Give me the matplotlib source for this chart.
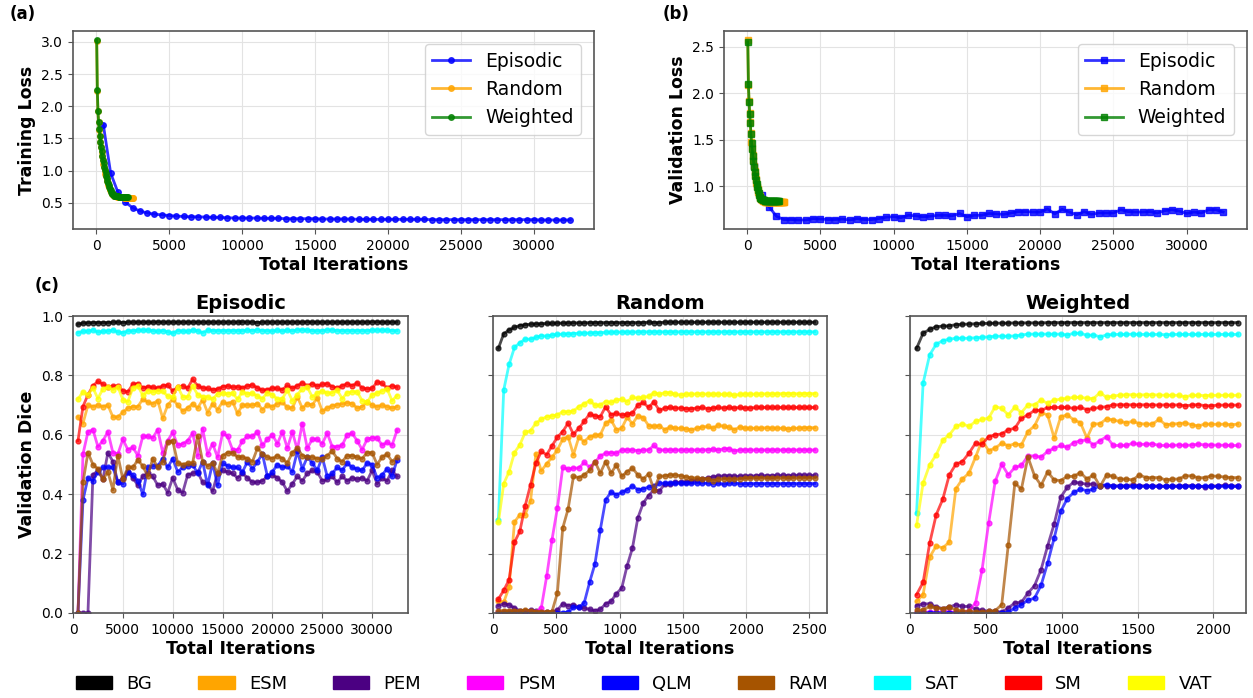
import numpy as np
import matplotlib
matplotlib.use("Agg")
import matplotlib.pyplot as plt
from matplotlib.patches import Patch

# iteration schedules (validation every n iterations)
ep_step, rand_step, w_step = 500, 42.4, 43.2

# training loss
train_ep = [1.71, 0.96, 0.66, 0.51, 0.42, 0.37, 0.34, 0.32, 0.31, 0.30,
            0.29, 0.285, 0.28, 0.28, 0.275, 0.27, 0.27, 0.265, 0.26, 0.26,
            0.26, 0.26, 0.255, 0.255, 0.255, 0.25, 0.25, 0.25, 0.25, 0.25,
            0.245, 0.245, 0.245, 0.245, 0.245, 0.24, 0.24, 0.24, 0.24, 0.24,
            0.24, 0.24, 0.24, 0.24, 0.24, 0.235, 0.235, 0.235, 0.235, 0.235,
            0.235, 0.235, 0.235, 0.235, 0.235, 0.235, 0.235, 0.235, 0.235, 0.235,
            0.23, 0.23, 0.23, 0.23, 0.23]
train_rand = [3.02, 2.24, 1.92, 1.75, 1.63, 1.53, 1.44, 1.36, 1.29, 1.22,
              1.16, 1.10, 1.05, 1.00, 0.95, 0.91, 0.87, 0.83, 0.80, 0.77,
              0.74, 0.71, 0.69, 0.67, 0.65, 0.64, 0.63, 0.62, 0.61, 0.61,
              0.60, 0.60, 0.60, 0.59, 0.59, 0.59, 0.59, 0.59, 0.59, 0.59,
              0.59, 0.59, 0.59, 0.59, 0.58, 0.58, 0.58, 0.58, 0.58, 0.58,
              0.58, 0.58, 0.58, 0.58, 0.58, 0.58, 0.58, 0.58, 0.58, 0.58]
train_w = [3.03, 2.25, 1.93, 1.76, 1.64, 1.54, 1.45, 1.37, 1.30, 1.23,
           1.17, 1.11, 1.06, 1.01, 0.96, 0.92, 0.88, 0.84, 0.80, 0.77,
           0.74, 0.71, 0.69, 0.67, 0.65, 0.64, 0.63, 0.62, 0.61, 0.61,
           0.60, 0.60, 0.60, 0.60, 0.60, 0.59, 0.59, 0.59, 0.59, 0.59,
           0.59, 0.59, 0.59, 0.59, 0.59, 0.59, 0.59, 0.59, 0.59, 0.59]

# validation loss
val_ep = [1.22, 0.91, 0.78, 0.68, 0.645, 0.645, 0.64, 0.64, 0.655, 0.65,
          0.645, 0.645, 0.65, 0.64, 0.655, 0.645, 0.645, 0.655, 0.67, 0.675,
          0.665, 0.69, 0.685, 0.675, 0.68, 0.69, 0.69, 0.685, 0.71, 0.675,
          0.69, 0.69, 0.71, 0.705, 0.70, 0.715, 0.73, 0.73, 0.725, 0.725,
          0.76, 0.705, 0.755, 0.725, 0.695, 0.73, 0.70, 0.715, 0.715, 0.715,
          0.75, 0.73, 0.725, 0.725, 0.73, 0.715, 0.74, 0.75, 0.735, 0.71,
          0.725, 0.715, 0.75, 0.75, 0.725]
val_rand = [2.57, 2.09, 1.92, 1.79, 1.69, 1.57, 1.48, 1.41, 1.34, 1.28,
            1.22, 1.17, 1.12, 1.08, 1.04, 1.00, 0.97, 0.94, 0.92, 0.90,
            0.88, 0.87, 0.86, 0.85, 0.85, 0.84, 0.84, 0.84, 0.83, 0.83,
            0.83, 0.83, 0.83, 0.83, 0.83, 0.83, 0.83, 0.83, 0.83, 0.83,
            0.83, 0.83, 0.83, 0.83, 0.83, 0.83, 0.83, 0.83, 0.83, 0.83,
            0.83, 0.83, 0.83, 0.83, 0.83, 0.83, 0.83, 0.83, 0.83, 0.83]
val_w = [2.55, 2.10, 1.90, 1.78, 1.68, 1.56, 1.47, 1.40, 1.33, 1.27,
         1.21, 1.16, 1.11, 1.07, 1.03, 0.99, 0.96, 0.93, 0.91, 0.89,
         0.88, 0.87, 0.86, 0.86, 0.85, 0.85, 0.85, 0.84, 0.84, 0.84,
         0.84, 0.84, 0.84, 0.84, 0.84, 0.84, 0.84, 0.84, 0.84, 0.84,
         0.84, 0.84, 0.84, 0.84, 0.84, 0.84, 0.84, 0.84, 0.84, 0.84]

classes = ['BG', 'ESM', 'PEM', 'PSM', 'QLM', 'RAM', 'SAT', 'SM', 'VAT']
colors = ['black', 'orange', 'indigo', 'magenta', 'blue', '#A65400', 'cyan', 'red', 'yellow']

# validation dice, episodic sampling
dice_ep = {
    'BG': [0.972, 0.976, 0.977, 0.978, 0.978, 0.978, 0.978, 0.979, 0.979, 0.978,
           0.979, 0.979, 0.979, 0.979, 0.979, 0.979, 0.980, 0.979, 0.979, 0.979,
           0.979, 0.979, 0.979, 0.979, 0.979, 0.979, 0.979, 0.979, 0.979, 0.979,
           0.979, 0.979, 0.979, 0.980, 0.979, 0.979, 0.978, 0.979, 0.979, 0.979,
           0.979, 0.979, 0.979, 0.979, 0.979, 0.979, 0.980, 0.979, 0.979, 0.979,
           0.979, 0.979, 0.979, 0.979, 0.979, 0.979, 0.979, 0.979, 0.979, 0.980,
           0.980, 0.979, 0.979, 0.979, 0.979],
    'ESM': [0.66, 0.638, 0.70, 0.695, 0.70, 0.695, 0.70, 0.66, 0.66, 0.676,
            0.69, 0.695, 0.695, 0.72, 0.71, 0.705, 0.715, 0.655, 0.70, 0.72,
            0.70, 0.68, 0.69, 0.705, 0.69, 0.718, 0.675, 0.705, 0.685, 0.71,
            0.705, 0.712, 0.672, 0.70, 0.70, 0.70, 0.705, 0.685, 0.70, 0.695,
            0.705, 0.71, 0.692, 0.69, 0.728, 0.69, 0.705, 0.70, 0.725, 0.68,
            0.69, 0.698, 0.702, 0.705, 0.708, 0.705, 0.69, 0.695, 0.71, 0.70,
            0.695, 0.70, 0.695, 0.69, 0.695],
    'PEM': [0.0, 0.0, 0.0, 0.465, 0.48, 0.45, 0.54, 0.51, 0.44, 0.455,
            0.475, 0.455, 0.43, 0.46, 0.47, 0.46, 0.43, 0.435, 0.405, 0.455,
            0.415, 0.405, 0.465, 0.47, 0.475, 0.44, 0.435, 0.41, 0.47, 0.48,
            0.475, 0.47, 0.455, 0.47, 0.455, 0.44, 0.44, 0.445, 0.46, 0.465,
            0.455, 0.44, 0.41, 0.435, 0.46, 0.445, 0.47, 0.48, 0.475, 0.445,
            0.45, 0.46, 0.44, 0.46, 0.445, 0.455, 0.45, 0.455, 0.445, 0.48,
            0.435, 0.455, 0.445, 0.48, 0.46],
    'PSM': [0.0, 0.535, 0.61, 0.617, 0.56, 0.58, 0.61, 0.54, 0.535, 0.585,
            0.55, 0.558, 0.53, 0.595, 0.595, 0.59, 0.617, 0.54, 0.58, 0.608,
            0.565, 0.57, 0.58, 0.605, 0.53, 0.62, 0.535, 0.57, 0.525, 0.605,
            0.595, 0.55, 0.548, 0.58, 0.595, 0.595, 0.61, 0.565, 0.585, 0.60,
            0.57, 0.61, 0.555, 0.61, 0.55, 0.638, 0.555, 0.585, 0.585, 0.57,
            0.605, 0.56, 0.56, 0.565, 0.60, 0.605, 0.58, 0.55, 0.585, 0.59,
            0.59, 0.565, 0.575, 0.565, 0.615],
    'QLM': [0.0, 0.38, 0.455, 0.445, 0.475, 0.49, 0.49, 0.49, 0.44, 0.435,
            0.475, 0.465, 0.445, 0.40, 0.49, 0.495, 0.495, 0.52, 0.49, 0.52,
            0.475, 0.49, 0.495, 0.50, 0.47, 0.51, 0.43, 0.505, 0.43, 0.505,
            0.495, 0.49, 0.49, 0.475, 0.51, 0.485, 0.51, 0.535, 0.46, 0.475,
            0.50, 0.49, 0.495, 0.475, 0.545, 0.485, 0.525, 0.505, 0.48, 0.525,
            0.46, 0.47, 0.49, 0.48, 0.505, 0.49, 0.485, 0.48, 0.505, 0.50,
            0.455, 0.465, 0.485, 0.46, 0.515],
    'RAM': [0.0, 0.44, 0.54, 0.50, 0.485, 0.45, 0.475, 0.415, 0.53, 0.45,
            0.49, 0.49, 0.515, 0.495, 0.46, 0.52, 0.49, 0.51, 0.575, 0.58,
            0.505, 0.50, 0.505, 0.505, 0.595, 0.51, 0.495, 0.505, 0.47, 0.53,
            0.54, 0.54, 0.525, 0.525, 0.52, 0.51, 0.555, 0.535, 0.525, 0.52,
            0.53, 0.52, 0.505, 0.54, 0.555, 0.53, 0.525, 0.525, 0.52, 0.52,
            0.53, 0.545, 0.52, 0.51, 0.53, 0.53, 0.525, 0.52, 0.54, 0.54,
            0.50, 0.525, 0.535, 0.51, 0.525],
    'SAT': [0.944, 0.948, 0.948, 0.953, 0.946, 0.948, 0.949, 0.953, 0.946, 0.944,
            0.950, 0.950, 0.952, 0.952, 0.952, 0.951, 0.948, 0.951, 0.947, 0.942,
            0.951, 0.949, 0.948, 0.952, 0.950, 0.944, 0.952, 0.951, 0.951, 0.951,
            0.951, 0.951, 0.951, 0.951, 0.952, 0.951, 0.953, 0.951, 0.951, 0.949,
            0.952, 0.949, 0.952, 0.950, 0.953, 0.953, 0.952, 0.951, 0.950, 0.951,
            0.953, 0.952, 0.951, 0.951, 0.951, 0.951, 0.951, 0.951, 0.951, 0.952,
            0.952, 0.952, 0.952, 0.951, 0.951],
    'SM': [0.58, 0.695, 0.735, 0.765, 0.78, 0.77, 0.762, 0.763, 0.765, 0.748,
           0.745, 0.77, 0.772, 0.758, 0.762, 0.76, 0.757, 0.765, 0.768, 0.748,
           0.76, 0.765, 0.757, 0.787, 0.765, 0.758, 0.756, 0.752, 0.754, 0.762,
           0.765, 0.76, 0.762, 0.758, 0.765, 0.768, 0.758, 0.75, 0.752, 0.757,
           0.756, 0.752, 0.766, 0.757, 0.765, 0.775, 0.765, 0.772, 0.764, 0.77,
           0.772, 0.762, 0.757, 0.765, 0.772, 0.765, 0.775, 0.757, 0.755, 0.756,
           0.778, 0.773, 0.758, 0.765, 0.76],
    'VAT': [0.72, 0.745, 0.735, 0.758, 0.722, 0.755, 0.76, 0.752, 0.762, 0.718,
            0.712, 0.757, 0.765, 0.733, 0.748, 0.745, 0.748, 0.746, 0.73, 0.727,
            0.762, 0.728, 0.728, 0.765, 0.735, 0.728, 0.728, 0.72, 0.738, 0.74,
            0.738, 0.741, 0.72, 0.745, 0.738, 0.74, 0.73, 0.722, 0.742, 0.735,
            0.72, 0.722, 0.75, 0.715, 0.735, 0.755, 0.76, 0.728, 0.74, 0.748,
            0.74, 0.742, 0.75, 0.722, 0.742, 0.745, 0.745, 0.715, 0.71, 0.735,
            0.74, 0.748, 0.755, 0.715, 0.732],
}

# validation dice, random sampling
dice_rand = {
    'BG': [0.891, 0.940, 0.953, 0.962, 0.968, 0.971, 0.972, 0.973, 0.974, 0.975,
           0.975, 0.976, 0.976, 0.977, 0.977, 0.977, 0.977, 0.978, 0.978, 0.978,
           0.978, 0.978, 0.978, 0.978, 0.978, 0.978, 0.978, 0.978, 0.979, 0.978,
           0.978, 0.979, 0.979, 0.979, 0.979, 0.979, 0.979, 0.979, 0.979, 0.979,
           0.979, 0.979, 0.979, 0.979, 0.979, 0.979, 0.979, 0.979, 0.979, 0.979,
           0.979, 0.979, 0.979, 0.979, 0.979, 0.979, 0.979, 0.979, 0.979, 0.979],
    'ESM': [0.040, 0.036, 0.087, 0.306, 0.331, 0.331, 0.378, 0.536, 0.479, 0.502,
            0.524, 0.549, 0.585, 0.594, 0.533, 0.592, 0.577, 0.594, 0.598, 0.600,
            0.639, 0.650, 0.617, 0.622, 0.659, 0.637, 0.664, 0.658, 0.631, 0.628,
            0.631, 0.617, 0.626, 0.622, 0.622, 0.620, 0.617, 0.622, 0.626, 0.628,
            0.622, 0.633, 0.628, 0.626, 0.617, 0.626, 0.622, 0.622, 0.622, 0.622,
            0.624, 0.622, 0.622, 0.622, 0.620, 0.622, 0.622, 0.624, 0.624, 0.624],
    'PEM': [0.025, 0.031, 0.028, 0.017, 0.008, 0.008, 0.009, 0.006, 0.003, 0.003,
            0.003, 0.010, 0.031, 0.025, 0.028, 0.020, 0.017, 0.012, 0.008, 0.012,
            0.031, 0.039, 0.065, 0.084, 0.159, 0.219, 0.320, 0.370, 0.395, 0.415,
            0.410, 0.434, 0.436, 0.440, 0.440, 0.441, 0.445, 0.447, 0.450, 0.455,
            0.458, 0.460, 0.462, 0.462, 0.460, 0.460, 0.461, 0.461, 0.462, 0.463,
            0.462, 0.462, 0.463, 0.463, 0.462, 0.463, 0.464, 0.463, 0.463, 0.463],
    'PSM': [0.003, 0.003, 0.003, 0.003, 0.003, 0.003, 0.003, 0.003, 0.017, 0.123,
            0.247, 0.353, 0.490, 0.484, 0.488, 0.488, 0.507, 0.491, 0.507, 0.529,
            0.538, 0.540, 0.538, 0.549, 0.549, 0.549, 0.547, 0.549, 0.549, 0.564,
            0.549, 0.549, 0.549, 0.549, 0.549, 0.549, 0.549, 0.549, 0.549, 0.550,
            0.551, 0.549, 0.553, 0.553, 0.546, 0.549, 0.549, 0.549, 0.549, 0.549,
            0.549, 0.549, 0.549, 0.549, 0.549, 0.549, 0.549, 0.549, 0.549, 0.549],
    'QLM': [0.001, 0.001, 0.001, 0.001, 0.001, 0.001, 0.001, 0.001, 0.001, 0.001,
            0.001, 0.001, 0.001, 0.003, 0.019, 0.019, 0.034, 0.103, 0.165, 0.280,
            0.381, 0.407, 0.398, 0.406, 0.415, 0.428, 0.415, 0.418, 0.424, 0.428,
            0.437, 0.437, 0.437, 0.437, 0.437, 0.437, 0.437, 0.437, 0.437, 0.437,
            0.436, 0.437, 0.433, 0.437, 0.437, 0.436, 0.435, 0.436, 0.436, 0.436,
            0.436, 0.436, 0.436, 0.436, 0.436, 0.436, 0.436, 0.436, 0.436, 0.436],
    'RAM': [0.008, 0.008, 0.008, 0.008, 0.008, 0.010, 0.008, 0.005, 0.005, 0.005,
            0.005, 0.067, 0.286, 0.350, 0.460, 0.456, 0.465, 0.480, 0.510, 0.471,
            0.510, 0.471, 0.498, 0.460, 0.476, 0.488, 0.465, 0.451, 0.468, 0.415,
            0.460, 0.462, 0.465, 0.465, 0.462, 0.458, 0.455, 0.455, 0.452, 0.452,
            0.446, 0.450, 0.452, 0.450, 0.450, 0.452, 0.455, 0.455, 0.455, 0.455,
            0.455, 0.455, 0.455, 0.455, 0.455, 0.455, 0.455, 0.455, 0.455, 0.455],
    'SAT': [0.312, 0.751, 0.837, 0.894, 0.910, 0.922, 0.922, 0.928, 0.934, 0.932,
            0.936, 0.938, 0.939, 0.940, 0.941, 0.942, 0.942, 0.943, 0.944, 0.944,
            0.945, 0.945, 0.946, 0.946, 0.946, 0.946, 0.947, 0.947, 0.947, 0.947,
            0.947, 0.947, 0.947, 0.947, 0.947, 0.947, 0.947, 0.947, 0.947, 0.947,
            0.947, 0.947, 0.947, 0.947, 0.947, 0.947, 0.947, 0.947, 0.947, 0.947,
            0.947, 0.947, 0.947, 0.947, 0.947, 0.947, 0.947, 0.947, 0.947, 0.947],
    'SM': [0.047, 0.076, 0.112, 0.238, 0.275, 0.361, 0.432, 0.504, 0.544, 0.533,
           0.563, 0.592, 0.611, 0.639, 0.602, 0.622, 0.645, 0.670, 0.664, 0.661,
           0.695, 0.667, 0.673, 0.666, 0.670, 0.673, 0.700, 0.709, 0.692, 0.711,
           0.682, 0.690, 0.692, 0.690, 0.690, 0.688, 0.688, 0.690, 0.692, 0.688,
           0.690, 0.692, 0.690, 0.692, 0.690, 0.692, 0.690, 0.690, 0.692, 0.692,
           0.692, 0.692, 0.692, 0.692, 0.692, 0.692, 0.692, 0.692, 0.692, 0.692],
    'VAT': [0.305, 0.435, 0.476, 0.540, 0.566, 0.608, 0.614, 0.639, 0.652, 0.661,
            0.664, 0.667, 0.678, 0.678, 0.680, 0.695, 0.704, 0.715, 0.700, 0.700,
            0.712, 0.709, 0.717, 0.720, 0.712, 0.726, 0.723, 0.726, 0.729, 0.742,
            0.736, 0.742, 0.742, 0.736, 0.734, 0.737, 0.737, 0.738, 0.738, 0.737,
            0.737, 0.737, 0.736, 0.737, 0.733, 0.736, 0.737, 0.737, 0.737, 0.738,
            0.738, 0.738, 0.738, 0.739, 0.739, 0.739, 0.738, 0.739, 0.739, 0.739],
}

# validation dice, weighted sampling
dice_w = {
    'BG': [0.891, 0.942, 0.955, 0.964, 0.966, 0.967, 0.971, 0.972, 0.973, 0.974,
           0.975, 0.975, 0.976, 0.976, 0.976, 0.977, 0.977, 0.977, 0.977, 0.977,
           0.978, 0.978, 0.978, 0.978, 0.978, 0.978, 0.978, 0.978, 0.978, 0.978,
           0.978, 0.978, 0.978, 0.978, 0.978, 0.978, 0.978, 0.978, 0.978, 0.978,
           0.978, 0.978, 0.978, 0.978, 0.978, 0.978, 0.978, 0.978, 0.978, 0.978],
    'ESM': [0.039, 0.062, 0.188, 0.226, 0.219, 0.239, 0.418, 0.451, 0.471, 0.525,
            0.581, 0.547, 0.555, 0.572, 0.563, 0.570, 0.566, 0.611, 0.630, 0.675,
            0.667, 0.589, 0.661, 0.667, 0.650, 0.641, 0.589, 0.637, 0.637, 0.654,
            0.650, 0.645, 0.641, 0.645, 0.638, 0.636, 0.636, 0.652, 0.634, 0.636,
            0.638, 0.640, 0.634, 0.630, 0.636, 0.636, 0.635, 0.636, 0.634, 0.636],
    'PEM': [0.025, 0.031, 0.031, 0.020, 0.015, 0.020, 0.028, 0.022, 0.022, 0.013,
            0.009, 0.006, 0.006, 0.003, 0.017, 0.034, 0.036, 0.067, 0.092, 0.146,
            0.226, 0.300, 0.390, 0.423, 0.441, 0.437, 0.434, 0.434, 0.429, 0.429,
            0.428, 0.428, 0.429, 0.432, 0.429, 0.428, 0.428, 0.428, 0.427, 0.428,
            0.428, 0.429, 0.429, 0.427, 0.425, 0.428, 0.428, 0.430, 0.428, 0.428],
    'PSM': [0.003, 0.003, 0.003, 0.003, 0.003, 0.003, 0.003, 0.003, 0.007, 0.034,
            0.146, 0.303, 0.443, 0.501, 0.465, 0.490, 0.497, 0.529, 0.529, 0.525,
            0.544, 0.555, 0.564, 0.558, 0.574, 0.580, 0.583, 0.566, 0.580, 0.594,
            0.564, 0.564, 0.564, 0.572, 0.568, 0.568, 0.570, 0.564, 0.564, 0.564,
            0.566, 0.564, 0.566, 0.568, 0.566, 0.566, 0.565, 0.565, 0.564, 0.564],
    'QLM': [0.001, 0.001, 0.001, 0.001, 0.001, 0.001, 0.001, 0.001, 0.001, 0.001,
            0.001, 0.001, 0.001, 0.001, 0.002, 0.017, 0.028, 0.043, 0.050, 0.093,
            0.168, 0.252, 0.342, 0.385, 0.406, 0.417, 0.412, 0.417, 0.429, 0.432,
            0.426, 0.428, 0.426, 0.426, 0.426, 0.427, 0.426, 0.426, 0.426, 0.426,
            0.426, 0.426, 0.427, 0.426, 0.427, 0.426, 0.426, 0.427, 0.426, 0.426],
    'RAM': [0.009, 0.011, 0.022, 0.017, 0.015, 0.020, 0.011, 0.006, 0.006, 0.004,
            0.003, 0.006, 0.008, 0.028, 0.230, 0.437, 0.417, 0.525, 0.462, 0.430,
            0.475, 0.448, 0.446, 0.460, 0.460, 0.473, 0.451, 0.465, 0.426, 0.465,
            0.460, 0.451, 0.451, 0.448, 0.465, 0.456, 0.456, 0.456, 0.448, 0.451,
            0.451, 0.462, 0.462, 0.455, 0.456, 0.462, 0.460, 0.458, 0.456, 0.456],
    'SAT': [0.336, 0.774, 0.869, 0.905, 0.917, 0.922, 0.925, 0.925, 0.925, 0.927,
            0.928, 0.930, 0.932, 0.932, 0.932, 0.933, 0.936, 0.939, 0.939, 0.939,
            0.939, 0.939, 0.939, 0.936, 0.942, 0.942, 0.935, 0.936, 0.930, 0.936,
            0.938, 0.938, 0.938, 0.939, 0.938, 0.938, 0.938, 0.938, 0.937, 0.938,
            0.938, 0.938, 0.938, 0.938, 0.938, 0.938, 0.938, 0.938, 0.938, 0.938],
    'SM': [0.062, 0.103, 0.235, 0.331, 0.383, 0.465, 0.501, 0.510, 0.538, 0.572,
           0.568, 0.594, 0.600, 0.603, 0.617, 0.622, 0.656, 0.667, 0.682, 0.682,
           0.692, 0.692, 0.692, 0.692, 0.689, 0.692, 0.685, 0.689, 0.692, 0.695,
           0.701, 0.701, 0.701, 0.701, 0.701, 0.701, 0.701, 0.700, 0.701, 0.700,
           0.701, 0.698, 0.700, 0.702, 0.698, 0.698, 0.700, 0.700, 0.700, 0.700],
    'VAT': [0.295, 0.437, 0.499, 0.533, 0.581, 0.600, 0.628, 0.637, 0.628, 0.645,
            0.652, 0.656, 0.695, 0.689, 0.667, 0.693, 0.675, 0.701, 0.701, 0.717,
            0.706, 0.717, 0.720, 0.723, 0.726, 0.726, 0.723, 0.722, 0.742, 0.726,
            0.731, 0.733, 0.735, 0.735, 0.734, 0.735, 0.735, 0.734, 0.733, 0.733,
            0.733, 0.728, 0.733, 0.733, 0.732, 0.733, 0.733, 0.733, 0.733, 0.733],
}


def iters(values, step):
    return step * np.arange(1, len(values) + 1)


def style(ax):
    for s in ax.spines.values():
        s.set_color('#555555')
        s.set_linewidth(1.2)
    ax.grid(True, color='#e3e3e3', linewidth=0.8)
    ax.set_axisbelow(True)
    ax.tick_params(labelsize=10, color='#555555')


W, H = 1253, 698
fig = plt.figure(figsize=(W / 100, H / 100), dpi=100)

ax_a = fig.add_axes([73 / W, 1 - 229 / H, (594 - 73) / W, 198 / H])
ax_b = fig.add_axes([724 / W, 1 - 229 / H, (1247 - 724) / W, 198 / H])

kw = dict(linewidth=2, markersize=4, alpha=0.8)
ax_a.plot(iters(train_ep, ep_step), train_ep, marker='o', color='blue', label='Episodic', **kw)
ax_a.plot(iters(train_rand, rand_step), train_rand, marker='o', color='orange', label='Random', **kw)
ax_a.plot(iters(train_w, w_step), train_w, marker='o', color='green', label='Weighted', **kw)
ax_a.set_ylabel('Training Loss', fontsize=12.5, fontweight='bold')

ax_b.plot(iters(val_ep, ep_step), val_ep, marker='s', color='blue', label='Episodic', **kw)
ax_b.plot(iters(val_rand, rand_step), val_rand, marker='s', color='orange', label='Random', **kw)
ax_b.plot(iters(val_w, w_step), val_w, marker='s', color='green', label='Weighted', **kw)
ax_b.set_ylabel('Validation Loss', fontsize=12.5, fontweight='bold')

for ax in (ax_a, ax_b):
    style(ax)
    ax.set_xlabel('Total Iterations', fontsize=12.5, fontweight='bold', labelpad=2)
    ax.set_xticks([0, 5000, 10000, 15000, 20000, 25000, 30000])
    ax.legend(loc='upper right', fontsize=13.5, borderaxespad=0.7)

# panel (c)
top, bot = 316, 613
ax_e = fig.add_axes([73 / W, 1 - bot / H, (408 - 73) / W, (bot - top) / H])
ax_r = fig.add_axes([493 / W, 1 - bot / H, (827 - 493) / W, (bot - top) / H], sharey=ax_e)
ax_w = fig.add_axes([910 / W, 1 - bot / H, (1246 - 910) / W, (bot - top) / H], sharey=ax_e)

panels = [(ax_e, dice_ep, ep_step, 'Episodic', 33600),
          (ax_r, dice_rand, rand_step, 'Random', 2640),
          (ax_w, dice_w, w_step, 'Weighted', 2215)]
for ax, data, step, title, xmax in panels:
    for c, col in zip(classes, colors):
        ax.plot(iters(data[c], step), data[c], marker='o', color=col,
                linewidth=2, markersize=3.5, alpha=0.7)
    style(ax)
    ax.set_title(title, fontsize=14, fontweight='bold', pad=5)
    ax.set_xlabel('Total Iterations', fontsize=12.5, fontweight='bold', labelpad=2)
    ax.set_xlim(0, xmax)
ax_e.set_ylim(0, 1)
ax_e.set_yticks([0, 0.2, 0.4, 0.6, 0.8, 1.0])
ax_e.set_ylabel('Validation Dice', fontsize=12.5, fontweight='bold')
ax_e.set_xticks([0, 5000, 10000, 15000, 20000, 25000, 30000])
ax_r.set_xticks([0, 500, 1000, 1500, 2000, 2500])
ax_w.set_xticks([0, 500, 1000, 1500, 2000])
ax_r.tick_params(labelleft=False)
ax_w.tick_params(labelleft=False)

handles = [Patch(color=col, label=c) for c, col in zip(classes, colors)]
fig.legend(handles=handles, loc='center', bbox_to_anchor=(0.514, 1 - 684 / H), ncol=9,
           frameon=False, fontsize=13, handlelength=2.0, handleheight=0.7,
           handletextpad=0.8, columnspacing=2.55)

fig.text(10 / W, 1 - 14 / H, '(a)', fontsize=12, fontweight='bold', va='center')
fig.text(663 / W, 1 - 14 / H, '(b)', fontsize=12, fontweight='bold', va='center')
fig.text(35 / W, 1 - 286 / H, '(c)', fontsize=12, fontweight='bold', va='center')

fig.savefig('out.png', dpi=100)
